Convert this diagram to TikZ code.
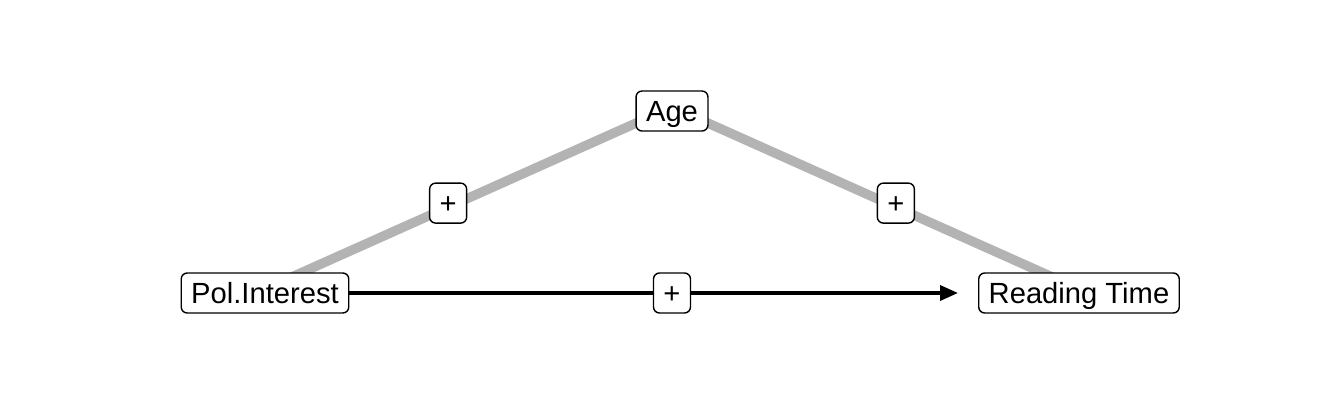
\documentclass[tikz,border=0pt]{standalone}
\usepackage{fontspec}
\setmainfont{Liberation Sans}
\usetikzlibrary{arrows.meta,backgrounds}
\definecolor{pathgray}{RGB}{179,179,179}

\begin{document}
\begin{tikzpicture}[
    var/.style={draw=black, fill=white, text=black, rounded corners=0.06cm, line width=0.4pt,
        font=\fontsize{8.3}{9.9}\selectfont, inner xsep=0.1cm, inner ysep=0.07cm,
        text height=0.23cm, text depth=0.03cm},
    sign/.style={var, minimum width=0.37cm, inner xsep=0cm}
]
    \useasboundingbox (0,0) rectangle (13.44,4.03);
    \node[var] (pol) at (2.65,1.10) {Pol.Interest};
    \node[var] (age) at (6.72,2.92) {Age};
    \node[var] (read) at (10.79,1.10) {Reading Time};
    \begin{scope}[on background layer]
        \draw[pathgray, line width=0.095cm] ([yshift=0.04cm]pol.center) -- node[sign, pos=0.45, yshift=0.04cm] (s1) {+} ([yshift=0.04cm]age.center);
        \draw[pathgray, line width=0.095cm] ([yshift=0.04cm]age.center) -- node[sign, pos=0.55, yshift=0.04cm] (s2) {+} ([yshift=0.04cm]read.center);
    \end{scope}
    \draw[line width=0.035cm, -{Triangle[length=0.18cm,width=0.15cm]}, shorten >=0.2cm] (pol) -- (read);
    \path (pol.center) -- node[sign] (s3) {+} (read.center);
\end{tikzpicture}
\end{document}
